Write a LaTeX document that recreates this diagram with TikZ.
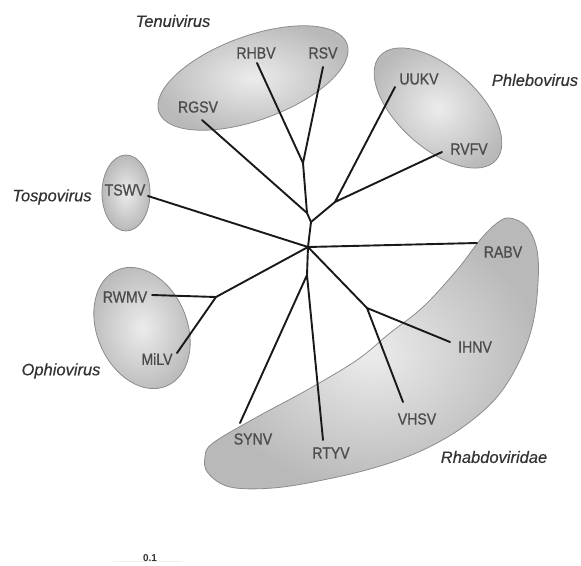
\documentclass[tikz,border=0pt]{standalone}
\usepackage{fontspec}
\setmainfont{Liberation Sans}
\newfontfamily\labfont[FakeStretch=0.88,FakeBold=0.8]{Liberation Sans}
\newfontfamily\taxfont[FakeBold=0.4]{Liberation Sans}
\begin{document}
\begin{tikzpicture}[x=1pt,y=-1pt,
  branch/.style={line width=1.9pt,line cap=round,line join=round,black!90},
  group/.style={draw=black!45,line width=0.8pt,inner color=gray!15,outer color=gray!55},
  virus/.style={font=\labfont\fontsize{16}{16}\selectfont,text=black!70,inner sep=0pt},
  taxon/.style={font=\taxfont\fontsize{16.5}{17}\selectfont\itshape,text=black!80,inner sep=0pt}]
\useasboundingbox (0,0) rectangle (581,565);
% group shapes
\shade[group,rotate around={20:(253,78)}] (253,78) ellipse [x radius=100pt,y radius=42pt];
\shade[group,rotate around={-42:(438,108)}] (438,108) ellipse [x radius=78pt,y radius=40pt];
\shade[group] (126,193) ellipse [x radius=24pt,y radius=38pt];
\shade[group,rotate around={-67:(142,328)}] (142,328) ellipse [x radius=63pt,y radius=45pt];
\shade[group] plot[smooth cycle,tension=0.6] coordinates {
  (510,218) (527,227) (537,250) (538,283) (533,323) (520,360) (497,397) (463,427)
  (423,450) (377,467) (323,480) (273,488) (230,487) (208,473) (205,457) (213,443)
  (257,417) (307,390) (357,360) (390,333) (423,307) (457,270) (480,240) (497,223)};
% junctions
\coordinate (C) at (308,247);
\coordinate (A) at (311,222);
\coordinate (B) at (307,213);
\coordinate (T) at (303,163);
\coordinate (P) at (335,202);
\coordinate (O) at (216,297);
\coordinate (D) at (307,275);
\coordinate (R) at (367,308);
% tips
\coordinate (tRHBV) at (257,63);
\coordinate (tRSV) at (323,67);
\coordinate (tRGSV) at (202,120);
\coordinate (tUUKV) at (395,87);
\coordinate (tRVFV) at (442,152);
\coordinate (tTSWV) at (148,196);
\coordinate (tRWMV) at (152,295);
\coordinate (tMiLV) at (177,353);
\coordinate (tRABV) at (477,243);
\coordinate (tIHNV) at (450,342);
\coordinate (tVHSV) at (403,402);
\coordinate (tSYNV) at (240,423);
\coordinate (tRTYV) at (323,440);
% branches
\draw[branch] (tRHBV) -- (T) -- (tRSV);
\draw[branch] (T) -- (B) -- (A) -- (C);
\draw[branch] (tRGSV) -- (B);
\draw[branch] (A) -- (P);
\draw[branch] (tUUKV) -- (P) -- (tRVFV);
\draw[branch] (tTSWV) -- (C);
\draw[branch] (tRWMV) -- (O) -- (tMiLV);
\draw[branch] (O) -- (C);
\draw[branch] (C) -- (tRABV);
\draw[branch] (C) -- (R);
\draw[branch] (tIHNV) -- (R) -- (tVHSV);
\draw[branch] (C) -- (D);
\draw[branch] (tSYNV) -- (D) -- (tRTYV);
% virus labels
\node[virus] (RHBV) at (256,53) {RHBV};
\node[virus] (RSV) at (323,53) {RSV};
\node[virus] (RGSV) at (198,107) {RGSV};
\node[virus] (UUKV) at (419,79) {UUKV};
\node[virus] (RVFV) at (469,149) {RVFV};
\node[virus] (TSWV) at (125,190) {TSWV};
\node[virus] (RWMV) at (125,297) {RWMV};
\node[virus] (MiLV) at (157,359) {MiLV};
\node[virus] (RABV) at (503,252) {RABV};
\node[virus] (IHNV) at (475,347) {IHNV};
\node[virus] (VHSV) at (417,419) {VHSV};
\node[virus] (SYNV) at (253,439) {SYNV};
\node[virus] (RTYV) at (331,453) {RTYV};
% taxon labels
\node[taxon] (tenui) at (173,21) {Tenuivirus};
\node[taxon] (phlebo) at (535,80) {Phlebovirus};
\node[taxon] (tospo) at (52,197) {Tospovirus};
\node[taxon] (ophio) at (61,371) {Ophiovirus};
\node[taxon] (rhabdo) at (494,457) {Rhabdoviridae};
% scale bar
\coordinate (s1) at (113,561);
\coordinate (s2) at (181,561);
\draw[gray!12,line width=1pt] (s1) -- (s2);
\node[font=\bfseries\fontsize{10}{10}\selectfont,text=black!80,inner sep=0pt] (scale) at (150,558) {0.1};
\end{tikzpicture}
\end{document}
